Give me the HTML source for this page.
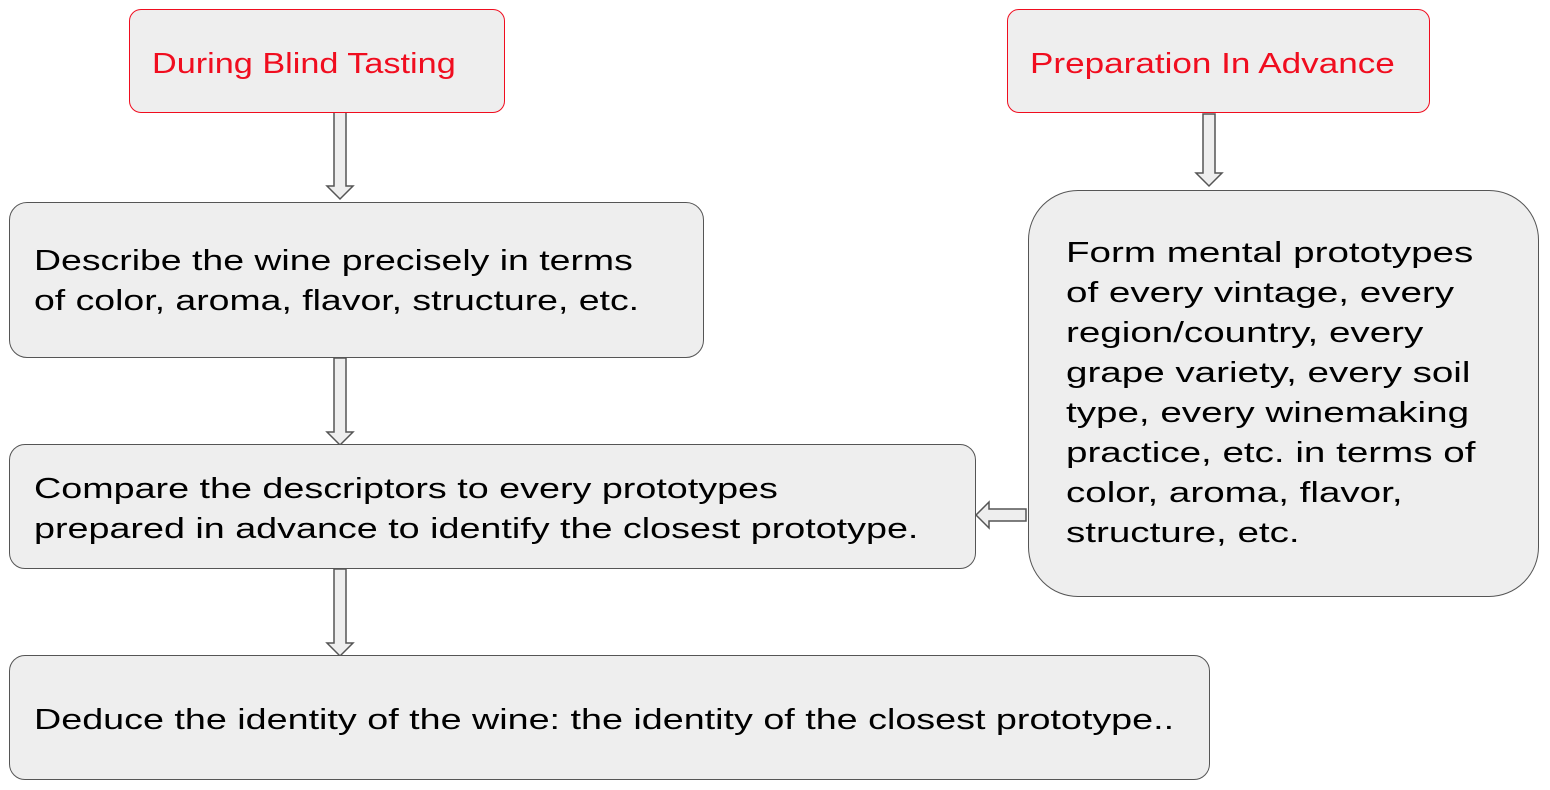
<!DOCTYPE html>
<html><head><meta charset="utf-8"><style>
html,body{margin:0;padding:0;background:#fff;width:1550px;height:790px;overflow:hidden;position:relative;font-family:"Liberation Sans",sans-serif;}
.box{position:absolute;box-sizing:border-box;background:#eeeeee;border:1.5px solid #555;color:#000;}
.red{border-color:#f00d1f;color:#f00d1f;border-radius:12px;font-size:30px;}
.t{position:absolute;font-size:29px;line-height:40px;white-space:nowrap;transform-origin:0 50%;}
svg{position:absolute;left:0;top:0}
</style></head><body>
<svg width="1550" height="790">
<g fill="#eeeeee" stroke="#555" stroke-width="1.5">
<polygon points="334,112 346,112 346,186 353,186 340,199 327,186 334,186"/>
<polygon points="334,358 346,358 346,432 353,432 340,445 327,432 334,432"/>
<polygon points="334,569 346,569 346,643 353,643 340,656 327,643 334,643"/>
<polygon points="1203,114 1215,114 1215,173 1222,173 1209,186 1196,173 1203,173"/>
<polygon points="1026,509 1026,521 989,521 989,528 976,515 989,502 989,509"/>
</g></svg>
<div class="box red" style="left:129px;top:9px;width:376px;height:104px">
<div class="t" style="left:22px;top:34px;transform:scaleX(1.18)">During Blind Tasting</div></div>
<div class="box red" style="left:1007px;top:9px;width:423px;height:104px">
<div class="t" style="left:22px;top:34px;transform:scaleX(1.21)">Preparation In Advance</div></div>
<div class="box" style="left:9px;top:202px;width:695px;height:156px;border-radius:18px">
<div class="t" style="left:24px;top:38px;transform:scaleX(1.29)">Describe the wine precisely in terms<br>of color, aroma, flavor, structure, etc.</div></div>
<div class="box" style="left:9px;top:444px;width:967px;height:125px;border-radius:16px">
<div class="t" style="left:24px;top:24px;transform:scaleX(1.30)">Compare the descriptors to every prototypes<br>prepared in advance to identify the closest prototype.</div></div>
<div class="box" style="left:9px;top:655px;width:1201px;height:125px;border-radius:16px">
<div class="t" style="left:24px;top:44px;transform:scaleX(1.30)">Deduce the identity of the wine: the identity of the closest prototype..</div></div>
<div class="box" style="left:1028px;top:190px;width:511px;height:407px;border-radius:50px">
<div class="t" style="left:37px;top:42px;transform:scaleX(1.33)">Form mental prototypes<br>of every vintage, every<br>region/country, every<br>grape variety, every soil<br>type, every winemaking<br>practice, etc. in terms of<br>color, aroma, flavor,<br>structure, etc.</div></div>
</body></html>
